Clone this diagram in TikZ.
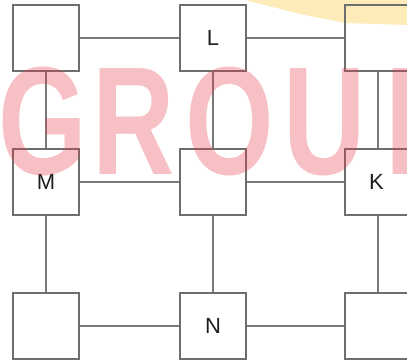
\documentclass[tikz,border=0pt]{standalone}
\usepackage{fontspec}
\setmainfont{Liberation Sans}
\begin{document}
\begin{tikzpicture}[x=1pt,y=-1pt,
  cell/.style={draw=boxgray,line width=1.4pt,minimum size=66pt,inner sep=0pt,
    font=\fontsize{22}{22}\selectfont,text=labelgray},
  link/.style={draw=linegray,line width=1.2pt},
  wm/.style={text=wmred,text opacity=0.32,inner sep=0pt,anchor=base,xscale=0.74,
    font=\fontsize{154}{154}\selectfont\bfseries}]
\definecolor{boxgray}{RGB}{110,110,110}
\definecolor{linegray}{RGB}{120,120,120}
\definecolor{labelgray}{RGB}{30,30,30}
\definecolor{wmred}{RGB}{230,60,75}
\definecolor{wmyellow}{RGB}{250,210,100}
\useasboundingbox (0,0) rectangle (407,361);
\clip (0,0) rectangle (407,361);
\fill[wmyellow,fill opacity=0.45] (245,0) -- (407,0) -- (407,25) -- (345,23) -- (300,14) -- (265,5) -- cycle;
\node[cell] (a1) at (46,38) {};
\node[cell] (b1) at (213,38) {L};
\node[cell] (c1) at (378,38) {};
\node[cell] (a2) at (46,182) {M};
\node[cell] (b2) at (213,182) {};
\node[cell] (c2) at (378,182) {\hspace*{-3pt}K};
\node[cell] (a3) at (46,326) {};
\node[cell] (b3) at (213,326) {N};
\node[cell] (c3) at (378,326) {};
\foreach \r in {1,2,3}{
  \draw[link] (a\r) -- (b\r);
  \draw[link] (b\r) -- (c\r);}
\foreach \c in {a,b,c}{
  \draw[link] (\c1) -- (\c2);
  \draw[link] (\c2) -- (\c3);}
\node[wm] (g) at (43,174) {G};
\node[wm] (r) at (134,174) {R};
\node[wm] (o) at (230,174) {O};
\node[wm] (u) at (325,174) {U};
\node[wm] (p) at (424,174) {P};
\end{tikzpicture}
\end{document}
